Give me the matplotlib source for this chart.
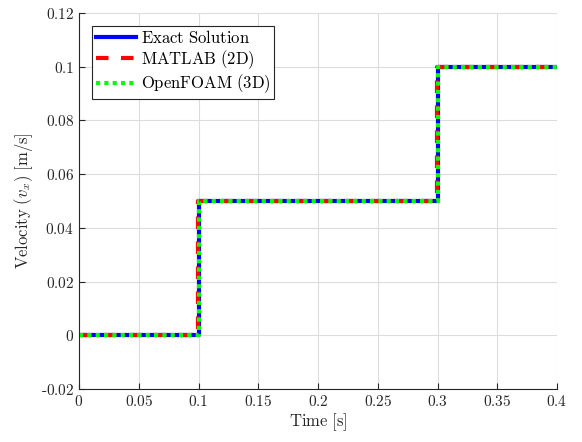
import matplotlib
matplotlib.use("Agg")
import matplotlib.pyplot as plt
import numpy as np

plt.rcParams['mathtext.fontset'] = 'cm'
plt.rcParams['font.family'] = 'serif'
plt.rcParams['font.serif'] = ['DejaVu Serif']

# step profile of velocity vs time
t_exact = [0, 0.1, 0.1, 0.3, 0.3, 0.4]
v_exact = [0, 0, 0.05, 0.05, 0.1, 0.1]
t_matlab = [0, 0.0995, 0.0995, 0.2995, 0.2995, 0.4]
v_matlab = [0, 0, 0.05, 0.05, 0.1, 0.1]
t_foam = [0, 0.1, 0.1, 0.3, 0.3, 0.4]
v_foam = [0, 0, 0.05, 0.05, 0.1, 0.1]

xticks = [0, 0.05, 0.1, 0.15, 0.2, 0.25, 0.3, 0.35, 0.4]
yticks = [-0.02, 0, 0.02, 0.04, 0.06, 0.08, 0.1, 0.12]

def fmt(v):
    s = '%g' % v
    if s.startswith('-'):
        return r'$\text{-}%s$' % s[1:]
    return r'$%s$' % s

fig = plt.figure(figsize=(5.82, 4.42), dpi=100)
ax = fig.add_axes([79/582, 1 - 389/442, (557-79)/582, (389-13)/442])

ax.plot(t_exact, v_exact, color='#0000ff', lw=3, label=r'$\mathrm{Exact\ Solution}$')
ax.plot(t_matlab, v_matlab, color='#ff0000', lw=3, ls=(0, (3, 3)), label=r'$\mathrm{MATLAB\ (2D)}$')
ax.plot(t_foam, v_foam, color='#00ff00', lw=3, ls=(0, (1, 1)), label=r'$\mathrm{OpenFOAM\ (3D)}$')

ax.set_xlim(0, 0.4)
ax.set_ylim(-0.02, 0.12)
ax.set_xticks(xticks)
ax.set_xticklabels([fmt(v) for v in xticks])
ax.set_yticks(yticks)
ax.set_yticklabels([fmt(v) for v in yticks])
ax.tick_params(direction='in', labelsize=11, length=4, color='#262626', labelcolor='#262626')

ax.grid(True, color='#dcdcdc', lw=0.8)
ax.set_axisbelow(True)
for s in ['top', 'right']:
    ax.spines[s].set_visible(False)
for s in ['left', 'bottom']:
    ax.spines[s].set_color('#262626')
    ax.spines[s].set_linewidth(0.8)

ax.set_xlabel(r'$\mathrm{Time\ [s]}$', fontsize=12, color='#262626', labelpad=2)
ax.set_ylabel(r'$\mathrm{Velocity\ (}v_x\mathrm{)\ [m/s]}$', fontsize=12, color='#262626')

leg = ax.legend(loc='upper left', fontsize=12, fancybox=False, edgecolor='#262626',
                framealpha=1, handlelength=2.4, borderpad=0.2, labelspacing=0.1,
                handletextpad=0.3, borderaxespad=0.8)
leg.get_frame().set_linewidth(0.8)

fig.savefig('out.png', dpi=100)
